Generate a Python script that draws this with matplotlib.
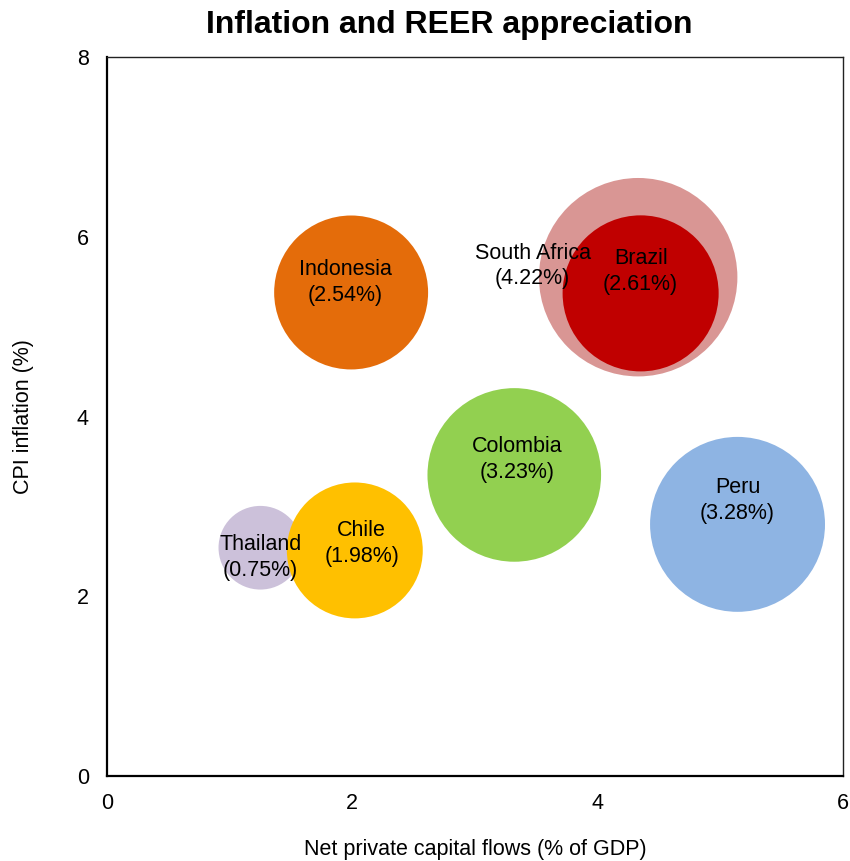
import numpy as np
import matplotlib.pyplot as plt

plt.rcParams["font.family"] = ["Liberation Sans", "DejaVu Sans"]

# data
countries = ["Thailand", "Chile", "Indonesia", "Colombia", "Peru", "South Africa", "Brazil"]
capital_flows = [1.25, 2.02, 1.99, 3.32, 5.14, 4.33, 4.35]
inflation = [2.54, 2.51, 5.38, 3.35, 2.80, 5.55, 5.37]
reer = [0.75, 1.98, 2.54, 3.23, 3.28, 4.22, 2.61]

colors = ["#CCC1DA", "#FFC000", "#E46C0A", "#92D050", "#8EB4E3", "#D99694", "#C00000"]
# label offsets in points from bubble centre
label_offsets = [(0, -7), (5, 5), (-4, 7), (2, 11), (0, 17), (-76, 8), (0, 16)]

fig = plt.figure(figsize=(8.5, 8.61), dpi=100)
ax = fig.add_axes([0.1259, 0.0987, 0.8659, 0.8351])

bubble_scale = 4837  # points^2 per unit of REER appreciation
for c, x, y, v, col in zip(countries, capital_flows, inflation, reer, colors):
    ax.scatter(x, y, s=bubble_scale * v, color=col, edgecolors="none", zorder=2)

for c, x, y, v, off in zip(countries, capital_flows, inflation, reer, label_offsets):
    ax.annotate(f"{c}\n({v:.2f}%)", (x, y), xytext=off, textcoords="offset points",
                ha="center", va="center", fontsize=15.5, linespacing=1.3, zorder=3)

ax.set_xlim(0, 6)
ax.set_ylim(0, 8)
ax.set_xticks([0, 2, 4, 6])
ax.set_yticks([0, 2, 4, 6, 8])
ax.tick_params(length=0, labelsize=15.5)
ax.tick_params(axis="x", pad=12)
ax.tick_params(axis="y", pad=13)

for side in ["left", "bottom"]:
    ax.spines[side].set_linewidth(1.6)
    ax.spines[side].set_color("black")
for side in ["top", "right"]:
    ax.spines[side].set_linewidth(1.0)
    ax.spines[side].set_color("#222222")

ax.set_xlabel("Net private capital flows (% of GDP)", fontsize=15.5, labelpad=18)
ax.set_ylabel("CPI inflation (%)", fontsize=15.5, labelpad=31)
fig.text(0.528, 0.971, "Inflation and REER appreciation", fontsize=23,
         fontweight="bold", ha="center", va="center")

fig.savefig("out.png", dpi=100)
